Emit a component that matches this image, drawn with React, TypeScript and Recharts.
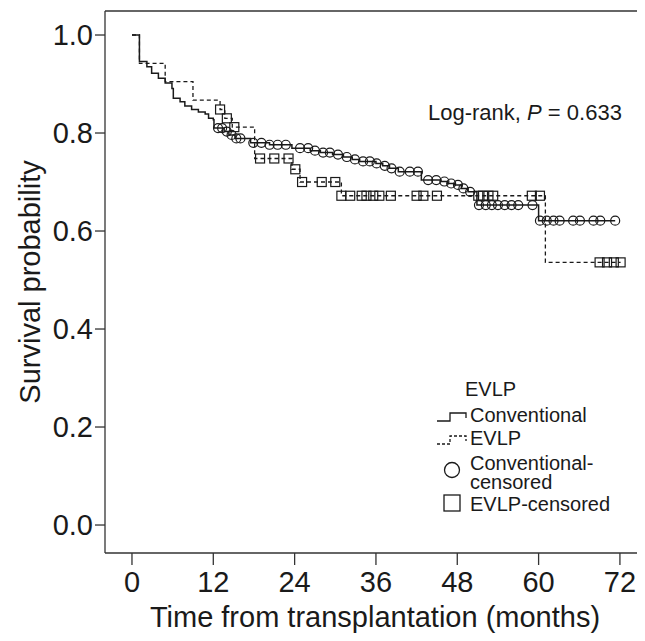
import { ComposedChart, Line, Scatter, XAxis, YAxis, ReferenceLine } from "recharts";

// Kaplan-Meier step points [months, survival]
const convSteps: [number, number][] = [
  [0, 1.0], [1.1, 0.946], [2.2, 0.935], [2.9, 0.922], [3.9, 0.912], [4.9, 0.902],
  [5.9, 0.891], [6.1, 0.871], [7.1, 0.864], [7.8, 0.855], [8.8, 0.848], [9.8, 0.843],
  [10.8, 0.839], [11.3, 0.83], [12.0, 0.827], [12.1, 0.81], [13.6, 0.803], [14.3, 0.796],
  [15.2, 0.789], [17.5, 0.78], [20.3, 0.776], [23.6, 0.769], [26.3, 0.764], [27.8, 0.76],
  [29.6, 0.756], [31.2, 0.751], [32.5, 0.746], [33.6, 0.742], [36.0, 0.738], [37.0, 0.733],
  [38.0, 0.728], [39.3, 0.721], [42.7, 0.704], [45.6, 0.701], [46.6, 0.697], [47.6, 0.694],
  [48.6, 0.687], [49.6, 0.68], [50.9, 0.653], [60.0, 0.621], [71.3, 0.621],
];

const evlpSteps: [number, number][] = [
  [0, 1.0], [1.1, 0.942], [4.9, 0.905], [9.0, 0.867], [13.0, 0.848], [13.7, 0.83],
  [14.8, 0.812], [18.1, 0.748], [23.6, 0.726], [24.8, 0.7], [30.9, 0.672], [61.0, 0.536],
  [72.1, 0.536],
];

// censoring times (months)
const convCensorTimes = [
  12.7, 13.3, 14.0, 14.7, 15.4, 16.0, 17.9, 19.1, 20.3, 21.5, 22.7, 24.8, 26.0, 27.0,
  28.2, 29.2, 30.4, 31.7, 32.9, 34.1, 35.1, 36.1, 37.3, 38.3, 39.5, 41.0, 42.2, 43.7,
  44.9, 46.1, 47.1, 48.1, 48.9, 49.9, 51.2, 52.2, 53.1, 54.0, 55.0, 56.0, 57.0, 59.1,
  60.2, 61.2, 62.2, 63.1, 65.1, 66.1, 68.1, 69.1, 71.3,
];

const evlpCensorTimes = [
  13.0, 14.0, 15.1, 18.9, 21.0, 23.1, 24.1, 25.1, 28.0, 30.0, 30.9, 32.2, 33.9, 34.6,
  35.6, 36.5, 38.2, 42.0, 43.0, 45.0, 51.1, 51.8, 52.6, 53.3, 59.0, 60.2, 69.0, 70.1,
  71.1, 72.1,
];

const X_TICKS = [0, 12, 24, 36, 48, 60, 72];
const Y_TICKS = [0, 0.2, 0.4, 0.6, 0.8, 1.0];
const X_DOMAIN = [-3.98, 75.7];
const Y_DOMAIN = [-0.0571, 1.049];

const FONT = "'Liberation Sans', Arial, sans-serif";
const INK = "#1a1a1a";

// the frame runs to the right edge of the window; keep scrollbars away
if (typeof document !== "undefined") {
  document.documentElement.style.overflow = "hidden";
  document.body.style.overflow = "hidden";
}

function survivalAt(steps: [number, number][], t: number) {
  let s = steps[0][1];
  for (const [tt, ss] of steps) if (tt <= t) s = ss;
  return s;
}

const convLine = convSteps.map(([t, s]) => ({ t, s }));
const evlpLine = evlpSteps.map(([t, s]) => ({ t, s }));
const convCensor = convCensorTimes.map((t) => ({ t, s: survivalAt(convSteps, t) }));
const evlpCensor = evlpCensorTimes.map((t) => ({ t, s: survivalAt(evlpSteps, t) }));

const CircleMark = (p: any) => (
  <circle cx={p.cx} cy={p.cy} r={4.5} fill="none" stroke={INK} strokeWidth={1.2} />
);
const SquareMark = (p: any) => (
  <rect x={p.cx - 4.5} y={p.cy - 4.5} width={9} height={9} fill="none" stroke={INK} strokeWidth={1.2} />
);

const YTitle = (props: any) => {
  const vb = props.viewBox || { x: 0, y: 3, height: 542 };
  const cx = 22;
  const cy = vb.y + vb.height / 2;
  return (
    <text
      x={cx}
      y={cy}
      transform={`rotate(-90 ${cx} ${cy})`}
      textAnchor="middle"
      dominantBaseline="central"
      fontSize={29}
      fontFamily={FONT}
      fill={INK}
    >
      Survival probability
    </text>
  );
};

const tickStyle = { fontSize: 29, fontFamily: FONT, fill: INK };

export default function App() {
  return (
    <div style={{ position: "relative", width: 637, height: 625 }}>
      <ComposedChart width={637} height={625} margin={{ top: 3, right: 0, bottom: 0, left: 0 }}>
        <XAxis
          dataKey="t"
          type="number"
          domain={X_DOMAIN}
          ticks={X_TICKS}
          allowDataOverflow
          height={80}
          tickSize={12}
          tickMargin={6}
          stroke="#333"
          strokeWidth={1.3}
          tick={tickStyle}
          label={{
            value: "Time from transplantation (months)",
            position: "insideBottom",
            offset: 6,
            style: { fontSize: 29, fontFamily: FONT, fill: INK },
          }}
        />
        <YAxis
          type="number"
          domain={Y_DOMAIN}
          ticks={Y_TICKS}
          allowDataOverflow
          width={97}
          tickSize={10}
          tickMargin={2}
          stroke="#333"
          strokeWidth={1.3}
          tick={tickStyle}
          tickFormatter={(v: number) => v.toFixed(1)}
          label={<YTitle />}
        />
        <ReferenceLine y={Y_DOMAIN[1]} stroke="#333" strokeWidth={1.3} />
        <Line
          data={evlpLine}
          dataKey="s"
          type="stepAfter"
          stroke={INK}
          strokeWidth={1.3}
          strokeDasharray="4 3"
          dot={false}
          isAnimationActive={false}
        />
        <Line
          data={convLine}
          dataKey="s"
          type="stepAfter"
          stroke={INK}
          strokeWidth={1.5}
          dot={false}
          isAnimationActive={false}
        />
        <Scatter data={convCensor} dataKey="s" shape={CircleMark} isAnimationActive={false} />
        <Scatter data={evlpCensor} dataKey="s" shape={SquareMark} isAnimationActive={false} />
      </ComposedChart>

      <svg
        width={637}
        height={625}
        style={{ position: "absolute", left: 0, top: 0, pointerEvents: "none" }}
        fontFamily={FONT}
      >
        <text x={420} y={112} fontSize={22} fill={INK}>
          Log-rank, <tspan fontStyle="italic">P</tspan> = 0.633
        </text>

        <g fill={INK} fontSize={20}>
          <text x={457} y={388}>EVLP</text>

          <path d="M429 413 H442 V405 H458 V410" fill="none" stroke={INK} strokeWidth={1.3} />
          <text x={462} y={414}>Conventional</text>

          <path d="M429 436 H442 V428 H458 V433" fill="none" stroke={INK} strokeWidth={1.3} strokeDasharray="3 2" />
          <text x={462} y={437}>EVLP</text>

          <circle cx={444} cy={462} r={7.5} fill="none" stroke={INK} strokeWidth={1.3} />
          <text x={462} y={462}>
            <tspan x={462} y={462}>Conventional-</tspan>
            <tspan x={462} dy={19}>censored</tspan>
          </text>

          <rect x={436} y={487} width={16} height={16} fill="none" stroke={INK} strokeWidth={1.3} />
          <text x={462} y={503}>EVLP-censored</text>
        </g>
      </svg>
    </div>
  );
}
